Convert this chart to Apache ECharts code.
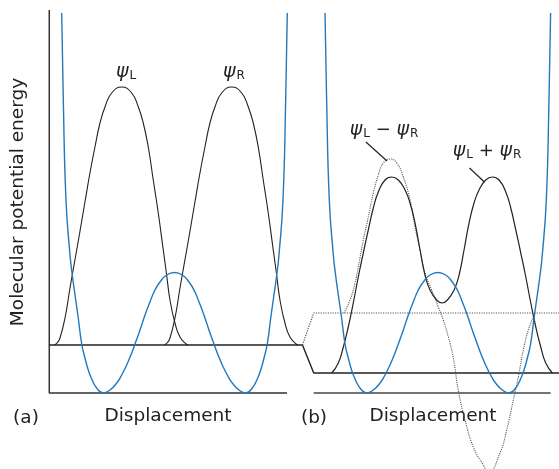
<!DOCTYPE html>
<html>
<head>
<meta charset="utf-8">
<script src="https://cdn.jsdelivr.net/npm/echarts@6/dist/echarts.min.js"></script>
<style>
  html, body { margin: 0; padding: 0; background: #fff; }
  #main { width: 559px; height: 469px; }
</style>
</head>
<body>
<div id="main"></div>
<script>
// displacement q (minima of the double well at +-10), energy E (arbitrary units)
var potential = [
  [-16.0, 38.0], [-15.77, 29.3], [-15.39, 19.3], [-14.82, 13.8], [-14.5, 11.8], [-14.11, 9.8],
  [-13.65, 7.5], [-13.16, 4.9], [-12.7, 3.5], [-12.23, 2.3], [-11.74, 1.4], [-11.04, 0.5],
  [-10.1, 0.0], [-9.15, 0.3], [-8.2, 1.0], [-7.49, 1.8], [-6.78, 2.8], [-6.07, 4.0],
  [-5.6, 4.9], [-4.89, 6.3], [-4.18, 7.8], [-3.48, 9.1], [-2.77, 10.3], [-2.06, 11.1],
  [-1.11, 11.8], [0.0, 12.05],
  [1.11, 11.8], [2.06, 11.1], [2.77, 10.3], [3.48, 9.1], [4.18, 7.8], [4.89, 6.3],
  [5.6, 4.9], [6.07, 4.0], [6.78, 2.8], [7.49, 1.8], [8.2, 1.0], [9.15, 0.3],
  [10.1, 0.0], [11.04, 0.5], [11.74, 1.4], [12.23, 2.3], [12.7, 3.5], [13.16, 4.9],
  [13.65, 7.5], [14.11, 9.8], [14.5, 11.8], [14.82, 13.8], [15.39, 19.3], [15.77, 29.3],
  [16.0, 38.0]
];
var psiL = [
  [-17.02, 4.8], [-16.6, 5.05], [-16.24, 5.5], [-15.53, 7.5], [-14.82, 10.5], [-14.35, 12.4],
  [-13.87, 14.3], [-13.4, 16.2], [-12.7, 19.1], [-11.99, 22.0], [-11.28, 24.6], [-10.57, 27.0],
  [-9.86, 28.6], [-8.91, 30.0], [-7.49, 30.6], [-6.07, 30.0], [-5.13, 28.6], [-4.43, 27.0],
  [-3.72, 24.6], [-3.01, 21.3], [-2.3, 18.0], [-1.59, 14.3], [-1.11, 11.8], [-0.64, 9.3],
  [0.07, 7.0], [0.78, 5.6], [1.73, 4.85], [1.91, 4.8]
];
var psiR = [
  [-1.42, 4.8], [-1.0, 5.05], [-0.64, 5.5], [0.07, 7.5], [0.78, 10.5], [1.25, 12.4],
  [1.73, 14.3], [2.2, 16.2], [2.9, 19.1], [3.61, 22.0], [4.32, 24.6], [5.03, 27.0],
  [5.74, 28.6], [6.69, 30.0], [8.11, 30.6], [9.53, 30.0], [10.47, 28.6], [11.17, 27.0],
  [11.88, 24.6], [12.59, 21.3], [13.3, 18.0], [14.01, 14.3], [14.49, 11.8], [14.96, 9.3],
  [15.67, 7.0], [16.38, 5.6], [17.33, 4.85], [17.51, 4.8]
];
var psiPlus = [
  [-15.05, 2.0], [-14.11, 3.0], [-13.4, 4.6], [-12.7, 6.6], [-11.99, 9.0], [-11.28, 11.6],
  [-10.57, 14.0], [-9.86, 16.3], [-9.15, 18.5], [-8.44, 20.1], [-7.49, 21.3], [-6.54, 21.6],
  [-5.6, 21.3], [-4.65, 20.3], [-3.94, 19.0], [-3.23, 17.0], [-2.52, 14.3], [-1.82, 11.8],
  [-1.11, 10.3], [-0.16, 9.3], [0.6, 9.0], [1.36, 9.3], [2.31, 10.3], [3.02, 11.8],
  [3.72, 14.3], [4.43, 17.0], [5.14, 19.0], [5.85, 20.3], [6.8, 21.3], [7.74, 21.6],
  [8.69, 21.3], [9.64, 20.1], [10.35, 18.5], [11.06, 16.3], [11.77, 14.0], [12.48, 11.6],
  [13.19, 9.0], [13.9, 6.6], [14.6, 4.6], [15.31, 3.0], [16.25, 2.0]
];
var psiMinus = [
  [-13.32, 8.0], [-12.45, 9.3], [-11.74, 11.0], [-11.28, 12.6], [-10.57, 15.3], [-9.86, 17.6],
  [-9.15, 20.0], [-8.44, 21.8], [-7.73, 23.0], [-6.78, 23.4], [-5.83, 23.0], [-4.89, 21.6],
  [-3.94, 19.3], [-3.23, 16.6], [-2.52, 14.3], [-1.82, 12.0], [-0.87, 10.3], [0.07, 8.6],
  [0.78, 7.3], [1.49, 5.6], [2.2, 3.5], [2.9, 0.3], [3.86, -2.7], [5.04, -5.4],
  [6.45, -7.2], [7.2, -7.9], [8.82, -6.0], [9.77, -3.7], [10.71, -0.7], [11.42, 1.6],
  [12.13, 4.3], [12.84, 6.3], [13.79, 8.0]
];
// energy levels
var levelA = 4.8;
var levelBonding = 2.0;
var levelAnti = 8.0;

var INK = '#222';
var BLUE = '#2278bd';
var FONT = 'DejaVu Sans';

function seg(data, axis, color, width, type, smooth) {
  return {
    type: 'line', xAxisIndex: axis, yAxisIndex: 0, data: data,
    showSymbol: false, smooth: smooth || false, silent: true, z: 2,
    lineStyle: { color: color, width: width, type: type || 'solid' }
  };
}

var chartDom = document.getElementById('main');
var myChart = echarts.init(chartDom);
var psiRich = {
  p: { fontSize: 19, fontFamily: FONT, fontStyle: 'italic', fill: INK },
  s: { fontSize: 12, fontFamily: FONT, fill: INK, padding: [8, 0, 0, 1] },
  o: { fontSize: 18, fontFamily: FONT, fill: INK }
};
var option = {
  animation: false,
  backgroundColor: '#fff',
  grid: { left: 0, right: 0, top: 0, bottom: 0 },
  xAxis: [
    { type: 'value', min: -24.75, max: 54.54, show: false },
    { type: 'value', min: -62.1, max: 17.19, show: false }
  ],
  yAxis: [{ type: 'value', min: -7.6, max: 39.3, show: false }],
  series: [
    // panel (a)
    seg([[-17.76, 38.3], [-17.76, 0], [15.96, 0]], 0, '#333', 1.5),
    seg([[-17.76, levelA], [18.13, levelA]], 0, INK, 1.4),
    seg(psiL, 0, INK, 1.1, 'solid', 0.5),
    seg(psiR, 0, INK, 1.1, 'solid', 0.5),
    seg(potential, 0, BLUE, 1.4, 'solid', 0.5),
    // panel (b)
    seg([[-17.6, 0], [16.0, 0]], 1, '#444', 1.5),
    seg([[-19.2, levelA], [-17.6, levelBonding], [17.3, levelBonding]], 1, INK, 1.4),
    seg([[-19.2, levelA], [-17.6, levelAnti], [17.3, levelAnti]], 1, '#555', 1.2, 'dotted'),
    seg(psiMinus, 1, '#555', 1.1, 'dotted', 0.5),
    seg(psiPlus, 1, INK, 1.2, 'solid', 0.5),
    seg(potential, 1, BLUE, 1.4, 'solid', 0.5),
    seg([[-10.2, 25.1], [-7.2, 23.2]], 1, INK, 1.2),
    seg([[4.5, 22.5], [6.6, 21.1]], 1, INK, 1.2)
  ],
  graphic: [
    { type: 'text', x: 18, y: 202, rotation: Math.PI / 2,
      style: { text: 'Molecular potential energy', fontSize: 18.5, fontFamily: FONT, fill: INK, align: 'center', verticalAlign: 'middle' } },
    { type: 'text', x: 168, y: 416,
      style: { text: 'Displacement', fontSize: 18.5, fontFamily: FONT, fill: INK, align: 'center', verticalAlign: 'middle' } },
    { type: 'text', x: 433, y: 416,
      style: { text: 'Displacement', fontSize: 18.5, fontFamily: FONT, fill: INK, align: 'center', verticalAlign: 'middle' } },
    { type: 'text', x: 26, y: 418,
      style: { text: '(a)', fontSize: 18.5, fontFamily: FONT, fill: INK, align: 'center', verticalAlign: 'middle' } },
    { type: 'text', x: 314, y: 418,
      style: { text: '(b)', fontSize: 18.5, fontFamily: FONT, fill: INK, align: 'center', verticalAlign: 'middle' } },
    { type: 'text', x: 126, y: 72,
      style: { text: '{p|ψ}{s|L}', rich: psiRich, align: 'center', verticalAlign: 'middle' } },
    { type: 'text', x: 234, y: 72,
      style: { text: '{p|ψ}{s|R}', rich: psiRich, align: 'center', verticalAlign: 'middle' } },
    { type: 'text', x: 384, y: 130,
      style: { text: '{p|ψ}{s|L}{o| − }{p|ψ}{s|R}', rich: psiRich, align: 'center', verticalAlign: 'middle' } },
    { type: 'text', x: 487, y: 151,
      style: { text: '{p|ψ}{s|L}{o| + }{p|ψ}{s|R}', rich: psiRich, align: 'center', verticalAlign: 'middle' } }
  ]
};
myChart.setOption(option);
</script>
</body>
</html>
